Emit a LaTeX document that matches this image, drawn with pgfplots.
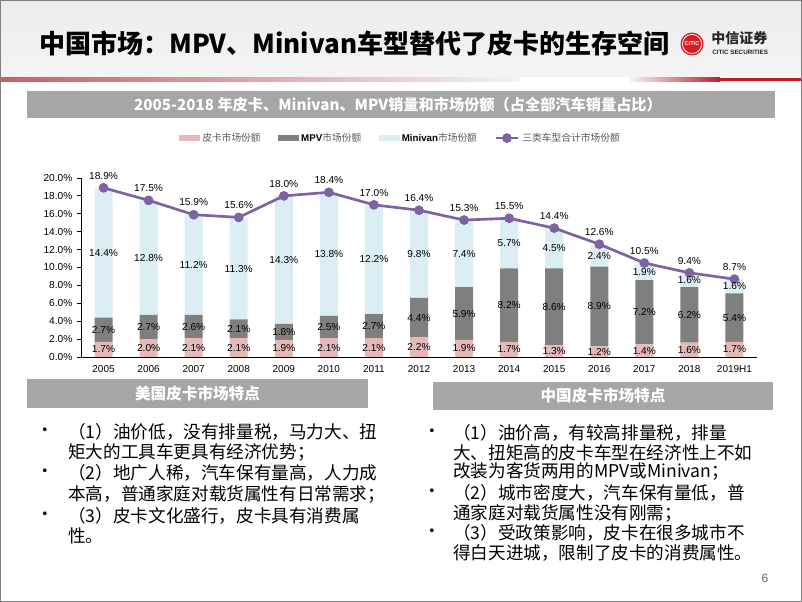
\documentclass[border=0pt]{standalone}
\usepackage{fontspec}
\setmainfont{Liberation Sans}
\newfontfamily\cjk{Noto Sans CJK SC}
\usepackage{pgfplots}
\usepackage{pgfplotstable}
\pgfplotsset{compat=1.18}

\definecolor{pinkc}{HTML}{E6B8B7}
\definecolor{mpvc}{HTML}{7F7F7F}
\definecolor{minic}{HTML}{DBEEF4}
\definecolor{purc}{HTML}{7F62A1}
\definecolor{boxc}{HTML}{A6A6A6}
\definecolor{bandtop}{HTML}{ECECEC}
\definecolor{bandbot}{HTML}{F4F4F4}
\definecolor{redl}{RGB}{204,92,98}
\definecolor{redr}{RGB}{192,30,38}
\definecolor{logoc}{RGB}{214,28,36}
\definecolor{legtxt}{HTML}{595959}
\definecolor{framec}{HTML}{808080}

% x: category index, p/m/v: pickup, MPV, minivan share, t: total
% pc/mc/vc: height of the middle of each segment, for its label
\pgfplotstableread{
x  p    m    v     t     pc    mc    vc
0  1.7  2.7  14.4  18.9  0.85  3.05  11.6
1  2.0  2.7  12.8  17.5  1.0   3.35  11.1
2  2.1  2.6  11.2  15.9  1.05  3.4   10.3
3  2.1  2.1  11.3  15.6  1.05  3.15  9.85
4  1.9  1.8  14.3  18.0  0.95  2.8   10.85
5  2.1  2.5  13.8  18.4  1.05  3.35  11.5
6  2.1  2.7  12.2  17.0  1.05  3.45  10.9
7  2.2  4.4  9.8   16.4  1.1   4.4   11.5
8  1.9  5.9  7.4   15.3  0.95  4.85  11.5
9  1.7  8.2  5.7   15.5  0.85  5.8   12.75
10 1.3  8.6  4.5   14.4  0.65  5.6   12.15
11 1.2  8.9  2.4   12.6  0.6   5.65  11.3
12 1.4  7.2  1.9   10.5  0.7   5.0   9.55
13 1.6  6.2  1.6   9.4   0.8   4.7   8.6
14 1.7  5.4  1.6   8.7   0.85  4.4   7.9
}\data

\newcommand{\lblfont}{\fontsize{7.6}{8}\selectfont}
\newcommand{\pct}{\pgfmathprintnumber[fixed,fixed zerofill,precision=1]{\pgfplotspointmeta}\%}

\begin{document}
\begin{tikzpicture}[x=0.75pt,y=0.75pt]
\useasboundingbox (0,0) rectangle (802,602);
\fill[white] (0,0) rectangle (802,602);

% title band
\shade[top color=bandtop, bottom color=bandbot] (0,525) rectangle (802,602);
\shade[left color=redl, right color=bandbot] (0,520.5) rectangle (520,524);
\shade[left color=bandbot, right color=redr] (630,520.5) rectangle (720,524);
\fill[redr] (720,520.5) rectangle (802,524);
\node[anchor=west, inner sep=0, font=\cjk\bfseries\fontsize{19.5}{24}\selectfont] at (39,558)
  {中国市场：MPV、Minivan车型替代了皮卡的生存空间};

% logo
\fill[logoc] (692,558) circle (11.5);
\draw[white, line width=0.6pt] (692,558) circle (9.6);
\node[white, font=\bfseries\fontsize{4.2}{5}\selectfont, inner sep=0] at (692,558) {CITIC};
\node[anchor=west, inner sep=0, font=\cjk\bfseries\fontsize{10.5}{12}\selectfont, text=black!85] at (711,564) {中信证券};
\node[anchor=west, inner sep=0, font=\bfseries\fontsize{4.7}{5}\selectfont, text=black!85] at (712,550) {CITIC SECURITIES};

% chart title bar
\fill[boxc] (27,484) rectangle (775,511);
\node[white, font=\cjk\bfseries\fontsize{11.4}{14}\selectfont, inner sep=0] at (398,497.5)
  {2005-2018 年皮卡、Minivan、MPV销量和市场份额（占全部汽车销量占比）};

% stacked bars
\begin{axis}[
  at={(60.75pt,183.75pt)}, anchor=south west,
  scale only axis, width=507pt, height=134.25pt,
  xmin=-0.5, xmax=14.5, ymin=0, ymax=20,
  ybar stacked, bar width=13.5pt,
  axis lines*=left,
  axis line style={line width=0.7pt, black},
  xtick={0,...,14},
  xticklabels={2005,2006,2007,2008,2009,2010,2011,2012,2013,2014,2015,2016,2017,2018,2019H1},
  x tick style={draw=none},
  ytick={0,2,...,20},
  y tick style={black, line width=0.6pt},
  tick align=outside, major tick length=3pt,
  yticklabel={\pgfmathprintnumber[fixed,fixed zerofill,precision=1]{\tick}\%},
  /pgf/number format/assume math mode=true,
  x tick label style={font=\fontsize{7.5}{8}\selectfont},
  y tick label style={font=\fontsize{7.6}{8}\selectfont},
]
\addplot[fill=pinkc, draw=none] table[x=x, y=p] {\data};
\addplot[fill=mpvc, draw=none] table[x=x, y=m] {\data};
\addplot[fill=minic, draw=none] table[x=x, y=v] {\data};
\end{axis}

% line, labels and legend
\begin{axis}[
  at={(60.75pt,183.75pt)}, anchor=south west,
  scale only axis, width=507pt, height=134.25pt,
  xmin=-0.5, xmax=14.5, ymin=0, ymax=20,
  hide axis, clip=false,
  /pgf/number format/assume math mode=true,
  legend columns=4,
  legend cell align=left,
  legend style={at={(0.473,1.223)}, anchor=center, draw=none, fill=none,
    font=\fontsize{7.3}{8}\selectfont,
    /tikz/every even column/.append style={column sep=11pt}},
]
\addlegendimage{legend image code/.code={\fill[pinkc] (0pt,-1.9pt) rectangle (15pt,1.9pt);}}
\addlegendimage{legend image code/.code={\fill[mpvc] (0pt,-1.9pt) rectangle (15pt,1.9pt);}}
\addlegendimage{legend image code/.code={\fill[minic] (0pt,-1.9pt) rectangle (15pt,1.9pt);}}
\addplot[color=purc, line width=2pt, mark=*, mark size=2.6pt, mark options={fill=purc},
  nodes near coords=\pct, point meta=explicit,
  every node near coord/.append style={black, font=\lblfont, anchor=south, yshift=4.5pt, inner sep=1pt}]
  table[x=x, y=t, meta=t] {\data};
\addplot[draw=none, mark=none, forget plot,
  nodes near coords=\pct, point meta=explicit,
  every node near coord/.append style={black, font=\lblfont, anchor=center, inner sep=0pt}]
  table[x=x, y=pc, meta=p] {\data};
\addplot[draw=none, mark=none, forget plot,
  nodes near coords=\pct, point meta=explicit,
  every node near coord/.append style={black, font=\lblfont, anchor=center, inner sep=0pt}]
  table[x=x, y=mc, meta=m] {\data};
\addplot[draw=none, mark=none, forget plot,
  nodes near coords=\pct, point meta=explicit,
  every node near coord/.append style={black, font=\lblfont, anchor=center, inner sep=0pt}]
  table[x=x, y=vc, meta=v] {\data};
\legend{{\cjk\color{legtxt}皮卡市场份额},
  {\bfseries MPV\cjk\mdseries\color{legtxt}市场份额},
  {\bfseries Minivan\cjk\mdseries\color{legtxt}市场份额},
  {\cjk\color{legtxt}三类车型合计市场份额}}
\end{axis}

% bottom boxes
\fill[boxc] (27,194) rectangle (368,223);
\node[white, font=\cjk\bfseries\fontsize{11.7}{14}\selectfont, inner sep=0] at (197.5,208.5) {美国皮卡市场特点};
\fill[boxc] (433,192) rectangle (773,220);
\node[white, font=\cjk\bfseries\fontsize{11.7}{14}\selectfont, inner sep=0] at (603,206) {中国皮卡市场特点};

\begin{scope}[every node/.style={anchor=west, inner sep=0, font=\cjk\fontsize{13.2}{15}\selectfont}]
\node at (68,170) {（1）油价低，没有排量税，马力大、扭};
\node at (68,150) {矩大的工具车更具有经济优势；};
\node at (68,129) {（2）地广人稀，汽车保有量高，人力成};
\node at (68,108) {本高，普通家庭对载货属性有日常需求；};
\node at (68,86)  {（3）皮卡文化盛行，皮卡具有消费属};
\node at (68,66)  {性。};
\node at (453,169) {（1）油价高，有较高排量税，排量};
\node at (453,149) {大、扭矩高的皮卡车型在经济性上不如};
\node at (453,131) {改装为客货两用的MPV或Minivan；};
\node at (453,109) {（2）城市密度大，汽车保有量低，普};
\node at (453,89)  {通家庭对载货属性没有刚需；};
\node at (453,69)  {（3）受政策影响，皮卡在很多城市不};
\node at (453,49)  {得白天进城，限制了皮卡的消费属性。};
\end{scope}
\begin{scope}[every node/.style={anchor=center, inner sep=0, font=\cjk\fontsize{13.2}{15}\selectfont}]
\node at (45,170) {•};
\node at (45,129) {•};
\node at (45,86) {•};
\node at (432,169) {•};
\node at (432,109) {•};
\node at (432,69) {•};
\end{scope}

\node[text=black!60, font=\fontsize{9}{10}\selectfont, inner sep=0] at (765,24) {6};

% slide frame
\draw[framec, line width=1.1pt] (0.75,0.75) rectangle (801.25,601.25);
\end{tikzpicture}
\end{document}
